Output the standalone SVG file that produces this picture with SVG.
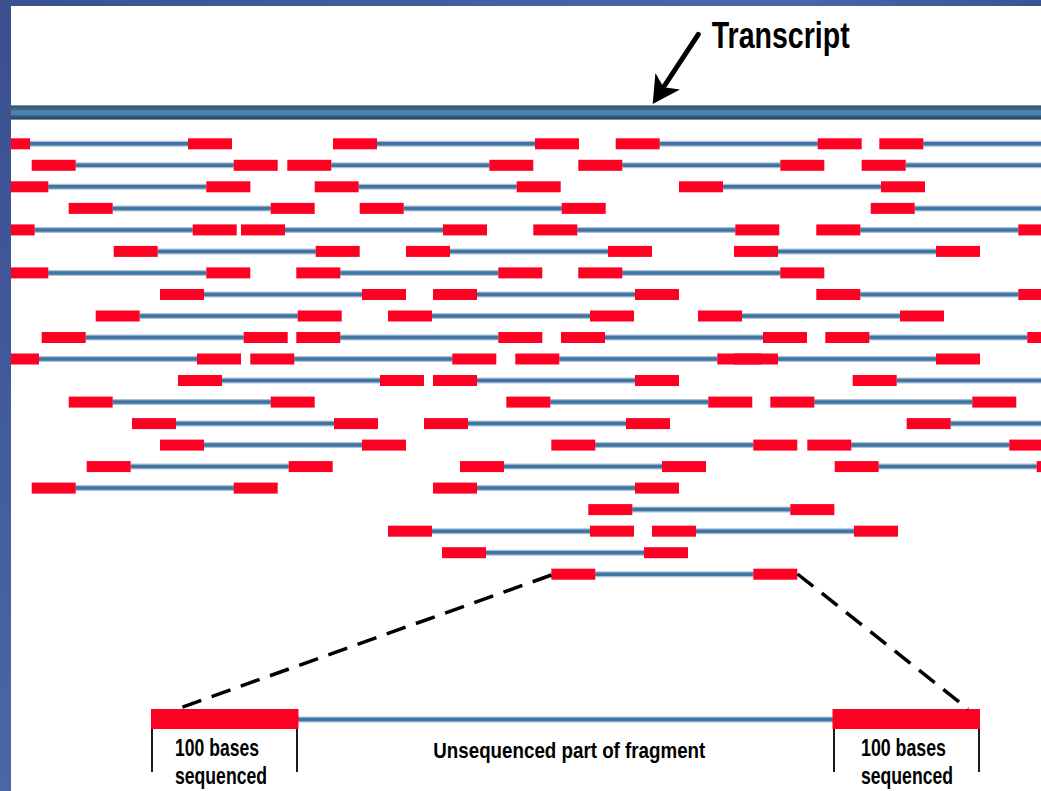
<svg xmlns="http://www.w3.org/2000/svg" width="1041" height="791" viewBox="0 0 1041 791">
<style>
.red{fill:#ff0022}
.ln{stroke:#4174a1;stroke-width:3.5;fill:none}
.lnE{stroke:#a9c1d6;stroke-width:6;fill:none}
.lbl{font-family:"Liberation Sans",Arial,sans-serif;font-weight:bold;fill:#000}
.dash{stroke:#000;stroke-width:3.5;stroke-dasharray:20 11;fill:none}
.tick{stroke:#1a1a1a;stroke-width:2}
</style>
<defs>
<linearGradient id="gLeft" x1="0" y1="0" x2="0" y2="1"><stop offset="0" stop-color="#3a4f8e"/><stop offset="1" stop-color="#4a66a9"/></linearGradient>
<linearGradient id="gTop" x1="0" y1="0" x2="1" y2="0"><stop offset="0" stop-color="#3b5190"/><stop offset="0.75" stop-color="#4a68a9"/><stop offset="1" stop-color="#3c5391"/></linearGradient>
<linearGradient id="gBar" x1="0" y1="0" x2="0" y2="1">
<stop offset="0" stop-color="#b9c5ce"/><stop offset="0.08" stop-color="#2f5673"/><stop offset="0.3" stop-color="#3d6a8e"/><stop offset="0.42" stop-color="#4d83b0"/><stop offset="0.62" stop-color="#4d83b0"/><stop offset="0.76" stop-color="#30597a"/><stop offset="0.92" stop-color="#2a4a66"/><stop offset="1" stop-color="#b9c5ce"/>
</linearGradient>
<g id="read">
<line class="lnE" x1="44" y1="5.5" x2="202" y2="5.5"/>
<line class="ln" x1="44" y1="5.5" x2="202" y2="5.5"/>
<rect class="red" x="0" y="0" width="44" height="11"/>
<rect class="red" x="202" y="0" width="44" height="11"/>
</g>
</defs>
<rect x="0" y="0" width="1041" height="791" fill="#ffffff"/>

<g id="transcript">
<rect x="11" y="105" width="1030" height="15" fill="url(#gBar)"/>
</g>

<g id="reads">
<g id="row1"><use href="#read" x="-14" y="138.3"/><use href="#read" x="333" y="138.3"/><use href="#read" x="615.7" y="138.3"/><use href="#read" x="879.3" y="138.3"/></g>
<g id="row2"><use href="#read" x="31.7" y="159.8"/><use href="#read" x="287.3" y="159.8"/><use href="#read" x="578.3" y="159.8"/><use href="#read" x="861.7" y="159.8"/></g>
<g id="row3"><use href="#read" x="4.3" y="181.3"/><use href="#read" x="314.7" y="181.3"/><use href="#read" x="679" y="181.3"/></g>
<g id="row4"><use href="#read" x="68.7" y="202.9"/><use href="#read" x="359.7" y="202.9"/><use href="#read" x="870.7" y="202.9"/></g>
<g id="row5"><use href="#read" x="-9.3" y="224.4"/><use href="#read" x="241" y="224.4"/><use href="#read" x="533.3" y="224.4"/><use href="#read" x="816.3" y="224.4"/></g>
<g id="row6"><use href="#read" x="113.7" y="245.9"/><use href="#read" x="406" y="245.9"/><use href="#read" x="734" y="245.9"/></g>
<g id="row7"><use href="#read" x="4.3" y="267.4"/><use href="#read" x="296.3" y="267.4"/><use href="#read" x="578.3" y="267.4"/></g>
<g id="row8"><use href="#read" x="160" y="289"/><use href="#read" x="433" y="289"/><use href="#read" x="816.3" y="289"/></g>
<g id="row9"><use href="#read" x="95.7" y="310.5"/><use href="#read" x="388" y="310.5"/><use href="#read" x="698" y="310.5"/></g>
<g id="row10"><use href="#read" x="41.7" y="332"/><use href="#read" x="296.3" y="332"/><use href="#read" x="561" y="332"/><use href="#read" x="825.3" y="332"/></g>
<g id="row11"><use href="#read" x="-5" y="353.5"/><use href="#read" x="250.3" y="353.5"/><use href="#read" x="515.3" y="353.5"/><use href="#read" x="734" y="353.5"/></g>
<g id="row12"><use href="#read" x="178" y="375"/><use href="#read" x="433" y="375"/><use href="#read" x="852.7" y="375"/></g>
<g id="row13"><use href="#read" x="68.7" y="396.6"/><use href="#read" x="506.3" y="396.6"/><use href="#read" x="770.3" y="396.6"/></g>
<g id="row14"><use href="#read" x="132" y="418.1"/><use href="#read" x="424" y="418.1"/><use href="#read" x="906.7" y="418.1"/></g>
<g id="row15"><use href="#read" x="160" y="439.6"/><use href="#read" x="551.3" y="439.6"/><use href="#read" x="807.3" y="439.6"/></g>
<g id="row16"><use href="#read" x="86.7" y="461.1"/><use href="#read" x="460" y="461.1"/><use href="#read" x="834.7" y="461.1"/></g>
<g id="row17"><use href="#read" x="31.7" y="482.6"/><use href="#read" x="433" y="482.6"/></g>
<g id="row18"><use href="#read" x="588.3" y="504.1"/></g>
<g id="row19"><use href="#read" x="388" y="525.7"/><use href="#read" x="652" y="525.7"/></g>
<g id="row20"><use href="#read" x="442" y="547.2"/></g>
<g id="row21"><use href="#read" x="551.3" y="568.7"/></g>
</g>

<g id="fragment">
<line class="lnE" x1="298" y1="719.5" x2="833" y2="719.5"/>
<line class="ln" x1="298" y1="719.5" x2="833" y2="719.5"/>
<rect class="red" x="151" y="709" width="147.5" height="20"/>
<rect class="red" x="832.5" y="709" width="147.5" height="20"/>
<line class="tick" x1="152" y1="729" x2="152" y2="772"/>
<line class="tick" x1="297" y1="729" x2="297" y2="772"/>
<line class="tick" x1="834" y1="729" x2="834" y2="772"/>
<line class="tick" x1="979" y1="729" x2="979" y2="772"/>
</g>

<g id="labels">
<text class="lbl" x="711.7" y="48.3" font-size="36" textLength="138" lengthAdjust="spacingAndGlyphs">Transcript</text>
<text class="lbl" x="175" y="755.5" font-size="24.5" textLength="84" lengthAdjust="spacingAndGlyphs">100 bases</text>
<text class="lbl" x="175" y="783.5" font-size="24.5" textLength="92" lengthAdjust="spacingAndGlyphs">sequenced</text>
<text class="lbl" x="433.3" y="757.5" font-size="22" textLength="272" lengthAdjust="spacingAndGlyphs">Unsequenced part of fragment</text>
<text class="lbl" x="861" y="755.5" font-size="24.5" textLength="85" lengthAdjust="spacingAndGlyphs">100 bases</text>
<text class="lbl" x="861" y="783.5" font-size="24.5" textLength="92" lengthAdjust="spacingAndGlyphs">sequenced</text>
</g>

<g id="connectors">
<line class="dash" x1="551.5" y1="575" x2="177" y2="709"/>
<line class="dash" x1="797.5" y1="574" x2="968" y2="709"/>
<line x1="698.3" y1="34.3" x2="662" y2="89.5" stroke="#000" stroke-width="5" stroke-linecap="round"/>
<polygon points="652.7,104 655.4,73 663.6,87.3 680,89.6" fill="#000"/>
</g>

<g id="frame">
<rect x="0" y="0" width="11" height="791" fill="url(#gLeft)"/>
<rect x="0" y="0" width="1041" height="6" fill="url(#gTop)"/>
</g>
</svg>
